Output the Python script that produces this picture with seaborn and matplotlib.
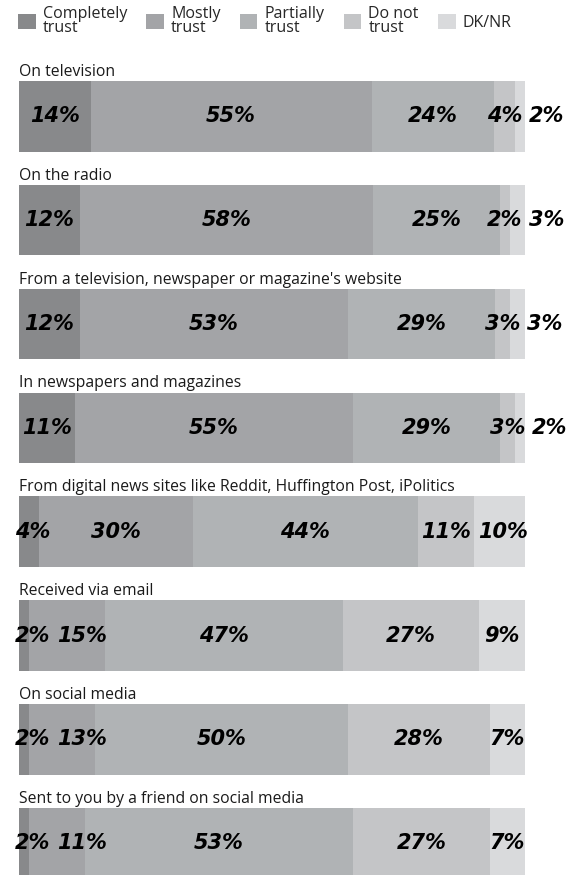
import pandas as pd
import seaborn as sns
import matplotlib.pyplot as plt
from matplotlib.patches import Patch

CATEGORIES = [
    "On television",
    "On the radio",
    "From a television, newspaper or magazine's website",
    "In newspapers and magazines",
    "From digital news sites like Reddit, Huffington Post, iPolitics",
    "Received via email",
    "On social media",
    "Sent to you by a friend on social media",
]
LEVELS = ["Completely\ntrust", "Mostly\ntrust", "Partially\ntrust", "Do not\ntrust", "DK/NR"]
COMPLETELY = [14, 12, 12, 11, 4, 2, 2, 2]
MOSTLY = [55, 58, 53, 55, 30, 15, 13, 11]
PARTIALLY = [24, 25, 29, 29, 44, 47, 50, 53]
DO_NOT = [4, 2, 3, 3, 11, 27, 28, 27]
DK_NR = [2, 3, 3, 2, 10, 9, 7, 7]
COLORS = ["#88898b", "#a3a4a7", "#b0b3b5", "#c4c5c7", "#d9dadc"]


def main():
    df = pd.DataFrame(dict(zip(LEVELS, [COMPLETELY, MOSTLY, PARTIALLY, DO_NOT, DK_NR])),
                      index=CATEGORIES)
    shares = df.div(df.sum(axis=1), axis=0) * 100
    cum = shares.cumsum(axis=1)

    sns.set_theme(style="white")
    plt.rcParams["font.family"] = ["Open Sans", "DejaVu Sans"]

    fig = plt.figure(figsize=(5.69, 8.75), dpi=100)
    ax = fig.add_axes([19 / 569, 0, 506 / 569, 1])

    # stacked look: draw cumulative totals from the longest down
    for level, color in reversed(list(zip(LEVELS, COLORS))):
        sns.barplot(x=cum[level].values, y=CATEGORIES, color=color, orient="h",
                    width=0.68, errorbar=None, linewidth=0, saturation=1, ax=ax)

    ax.set_xlim(0, 100)
    ax.set_ylim(7.305, -1.12)
    ax.axis("off")

    for i, cat in enumerate(CATEGORIES):
        ax.text(0, i - 0.39, cat, ha="left", va="baseline", fontsize=11.3, color="#1a1a1a")

    texts = []
    for i, cat in enumerate(CATEGORIES):
        row = []
        for level in LEVELS:
            center = cum.loc[cat, level] - shares.loc[cat, level] / 2
            t = ax.text(center, i, f"{df.loc[cat, level]}%", ha="center", va="center",
                        fontsize=15, fontweight="bold", fontstyle="italic",
                        family="DejaVu Sans", color="black")
            row.append(t)
        texts.append(row)

    # nudge labels of thin segments so they don't collide
    fig.canvas.draw()
    renderer = fig.canvas.get_renderer()
    px = ax.transData.transform((1, 0))[0] - ax.transData.transform((0, 0))[0]
    gap = 7 / px
    for row in texts:
        prev_right = None
        for t in row:
            w = t.get_window_extent(renderer).width / px
            left = t.get_position()[0] - w / 2
            if prev_right is None:
                left = max(left, -0.8)
            else:
                left = max(left, prev_right + gap)
            t.set_x(left + w / 2)
            prev_right = left + w

    handles = [Patch(facecolor=c, edgecolor="none") for c in COLORS]
    leg = fig.legend(handles, LEVELS, loc="upper left", bbox_to_anchor=(18 / 569, 1 - 6 / 875),
                     ncol=5, frameon=False, handlelength=1.1, handleheight=1.1,
                     handletextpad=0.45, columnspacing=1.2, fontsize=11.5,
                     borderpad=0, borderaxespad=0)
    for t in leg.get_texts():
        t.set_linespacing(0.85)

    fig.savefig("out.png", dpi=100, facecolor="white")
    plt.close(fig)


if __name__ == "__main__":
    main()
